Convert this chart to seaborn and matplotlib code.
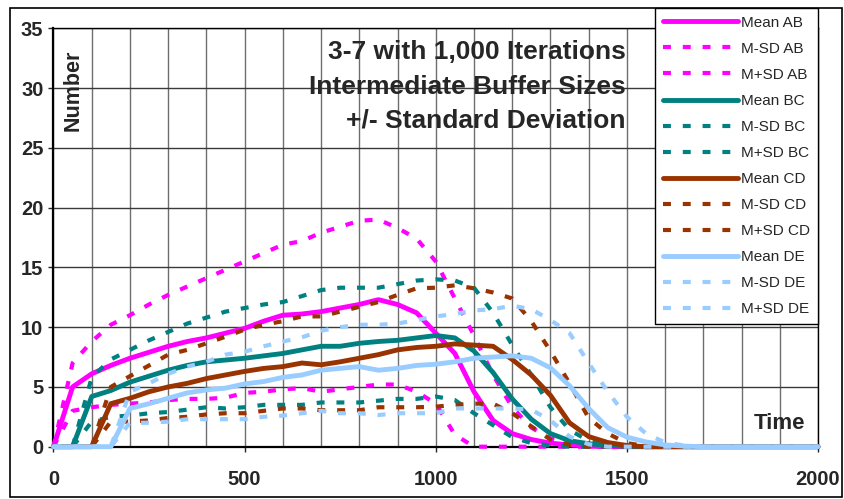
import numpy as np
import pandas as pd
import seaborn as sns
import matplotlib
matplotlib.use("Agg")
import matplotlib.pyplot as plt
from matplotlib.patches import Rectangle

# time axis, one point every 50 units
time = np.arange(0, 2001, 50)

mean_ab = [0, 5.0, 6.1, 6.8, 7.4, 7.9, 8.4, 8.8, 9.1, 9.5, 9.9, 10.5, 11.0, 11.1, 11.3, 11.6,
           11.9, 12.3, 11.9, 11.2, 9.5, 7.8, 4.6, 2.2, 1.1, 0.6, 0.3, 0.15, 0.05,
           0, 0, 0, 0, 0, 0, 0, 0, 0, 0, 0, 0]
msd_ab = [0, 3.0, 3.3, 3.5, 3.6, 3.7, 3.9, 4.0, 4.0, 4.1, 4.5, 4.6, 4.8, 4.9, 4.6, 4.8,
          5.0, 5.2, 5.2, 4.6, 3.6, 1.0,
          0, 0, 0, 0, 0, 0, 0, 0, 0, 0, 0, 0, 0, 0, 0, 0, 0, 0, 0]
psd_ab = [0, 7.0, 8.8, 10.2, 11.0, 11.9, 12.7, 13.4, 14.1, 14.8, 15.5, 16.2, 16.9, 17.2, 17.9, 18.4,
          18.9, 19.0, 18.3, 17.4, 15.5, 12.4, 9.3, 6.0, 3.3, 1.6, 0.7, 0.25, 0.05,
          0, 0, 0, 0, 0, 0, 0, 0, 0, 0, 0, 0]

mean_bc = [0, 0, 4.2, 4.7, 5.4, 5.9, 6.4, 6.8, 7.1, 7.25, 7.4, 7.6, 7.8, 8.1, 8.4, 8.4,
           8.65, 8.8, 8.9, 9.1, 9.3, 9.1, 8.0, 6.2, 4.0, 2.3, 1.1, 0.5, 0.25, 0.12, 0.05,
           0, 0, 0, 0, 0, 0, 0, 0, 0, 0]
msd_bc = [0, 0, 2.1, 2.5, 2.6, 2.8, 2.9, 3.1, 3.3, 3.2, 3.3, 3.5, 3.5, 3.5, 3.7, 3.7,
          3.7, 3.85, 4.0, 4.0, 4.2, 3.9, 2.8, 1.8, 0.8, 0.3, 0.1,
          0, 0, 0, 0, 0, 0, 0, 0, 0, 0, 0, 0, 0, 0]
psd_bc = [0, 0, 5.8, 7.3, 8.1, 8.9, 9.6, 10.3, 10.8, 11.3, 11.6, 11.9, 12.1, 12.6, 13.1, 13.3,
          13.3, 13.3, 13.6, 13.9, 14.0, 13.9, 13.3, 11.2, 8.5, 6.0, 3.3, 1.4, 0.5, 0.1,
          0, 0, 0, 0, 0, 0, 0, 0, 0, 0, 0]

mean_cd = [0, 0, 0, 3.6, 4.05, 4.6, 5.0, 5.3, 5.7, 6.0, 6.3, 6.55, 6.7, 7.0, 6.85, 7.1,
           7.4, 7.7, 8.1, 8.3, 8.4, 8.6, 8.5, 8.4, 7.3, 6.0, 4.3, 2.0, 0.85, 0.35, 0.1,
           0, 0, 0, 0, 0, 0, 0, 0, 0, 0]
msd_cd = [0, 0, 0, 2.1, 2.1, 2.2, 2.4, 2.5, 2.7, 2.8, 2.8, 3.0, 3.2, 3.2, 3.05, 3.05,
          3.05, 3.3, 3.3, 3.3, 3.35, 3.5, 3.6, 3.6, 2.8, 1.7, 0.6, 0.15,
          0, 0, 0, 0, 0, 0, 0, 0, 0, 0, 0, 0, 0]
psd_cd = [0, 0, 0, 5.0, 5.9, 6.8, 7.7, 8.1, 8.65, 9.2, 9.8, 10.2, 10.5, 10.9, 10.9, 11.3,
          11.7, 12.1, 12.7, 13.25, 13.3, 13.5, 13.25, 12.9, 12.4, 10.5, 8.0, 5.3, 2.4, 1.1, 0.3, 0.05,
          0, 0, 0, 0, 0, 0, 0, 0, 0]

mean_de = [0, 0, 0, 0, 3.2, 3.6, 4.05, 4.5, 4.75, 4.9, 5.25, 5.45, 5.8, 6.0, 6.4, 6.55,
           6.7, 6.4, 6.55, 6.8, 6.9, 7.1, 7.4, 7.5, 7.6, 7.4, 6.6, 5.1, 3.2, 1.6, 0.8, 0.4, 0.15, 0.05,
           0, 0, 0, 0, 0, 0, 0]
msd_de = [0, 0, 0, 0, 2.0, 2.0, 2.1, 2.3, 2.3, 2.3, 2.3, 2.5, 2.6, 2.8, 3.0, 2.8,
          2.8, 2.65, 2.8, 2.8, 2.8, 3.2, 3.2, 3.2, 3.2, 3.1, 2.2, 0.85, 0.2,
          0, 0, 0, 0, 0, 0, 0, 0, 0, 0, 0, 0]
psd_de = [0, 0, 0, 0, 4.6, 5.3, 6.1, 6.7, 7.1, 7.7, 7.95, 8.4, 8.8, 9.15, 9.7, 10.0,
          10.2, 10.2, 10.3, 10.6, 10.9, 11.1, 11.4, 11.5, 11.8, 11.5, 10.6, 9.5, 7.0, 4.6, 2.5, 1.1, 0.35, 0.1,
          0, 0, 0, 0, 0, 0, 0]

series = [
    ("Mean AB", mean_ab, "#FF00FF", True),
    ("M-SD AB", msd_ab, "#FF00FF", False),
    ("M+SD AB", psd_ab, "#FF00FF", False),
    ("Mean BC", mean_bc, "#008080", True),
    ("M-SD BC", msd_bc, "#008080", False),
    ("M+SD BC", psd_bc, "#008080", False),
    ("Mean CD", mean_cd, "#993300", True),
    ("M-SD CD", msd_cd, "#993300", False),
    ("M+SD CD", psd_cd, "#993300", False),
    ("Mean DE", mean_de, "#99CCFF", True),
    ("M-SD DE", msd_de, "#99CCFF", False),
    ("M+SD DE", psd_de, "#99CCFF", False),
]

sns.set_style("white")
plt.rcParams["font.family"] = ["Liberation Sans", "DejaVu Sans"]

W, H = 845, 499
fig = plt.figure(figsize=(W / 100, H / 100), dpi=100)
ax = fig.add_axes([53.5 / W, 1 - 446.7 / H, 764.5 / W, 418.4 / H])

for label, vals, col, is_mean in series:
    if is_mean:
        sns.lineplot(x=time, y=vals, ax=ax, color=col, lw=3.5, label=label,
                     clip_on=False, zorder=3)
    else:
        sns.lineplot(x=time, y=vals, ax=ax, color=col, lw=3.0, linestyle=(0, (1.9, 2.85)),
                     label=label, clip_on=False, zorder=3)

ax.set_xlim(0, 2000)
ax.set_ylim(0, 35)
ax.set_xticks(np.arange(0, 2001, 500))
ax.set_xticks(np.arange(0, 2001, 100), minor=True)
ax.set_yticks(np.arange(0, 36, 5))
ax.grid(which="both", axis="x", color="#6e6e6e", lw=1.0)
ax.grid(which="major", axis="y", color="#3a3a3a", lw=1.0)
ax.set_axisbelow(True)
ax.tick_params(axis="x", which="major", length=3.6, width=1, pad=13, direction="out",
               bottom=True, labelsize=14.5)
ax.tick_params(axis="x", which="minor", length=0)
ax.tick_params(axis="y", length=3.6, width=1, pad=3.6, direction="out", left=True,
               labelsize=14.5)
for lab in ax.get_xticklabels() + ax.get_yticklabels():
    lab.set_fontweight("bold")
for s in ax.spines.values():
    s.set_color("black")
    s.set_linewidth(1.0)
ax.spines["left"].set_linewidth(1.6)
ax.spines["bottom"].set_linewidth(1.6)
ax.set_xlabel("")
ax.set_ylabel("")

leg = ax.legend(loc="upper right", bbox_to_anchor=(818 / W, 1 - 8 / H),
                bbox_transform=fig.transFigure, fontsize=11, handlelength=4.9,
                handletextpad=0.25, labelspacing=0.79, borderpad=0.5, borderaxespad=0,
                frameon=True, fancybox=False, edgecolor="black", framealpha=1)
leg.get_frame().set_linewidth(1.0)
leg.set_zorder(10)

# title block, right aligned inside the plot
title_lines = ["3-7 with 1,000 Iterations", "Intermediate Buffer Sizes", "+/- Standard Deviation"]
for txt, yc in zip(title_lines, [52, 87, 120]):
    fig.text(626 / W, 1 - yc / H, txt, ha="right", va="center", fontsize=19, fontweight="bold")

fig.text(72.7 / W, 1 - 90.7 / H, "Number", rotation=90, ha="center", va="center",
         fontsize=15.5, fontweight="bold")
fig.text(779.7 / W, 1 - 423.3 / H, "Time", ha="center", va="center",
         fontsize=16, fontweight="bold")

fig.patches.append(Rectangle((10 / W, 2 / H), 832 / W, 489 / H, transform=fig.transFigure,
                             fill=False, ec="black", lw=1.2))

fig.savefig("out.png", dpi=100)
